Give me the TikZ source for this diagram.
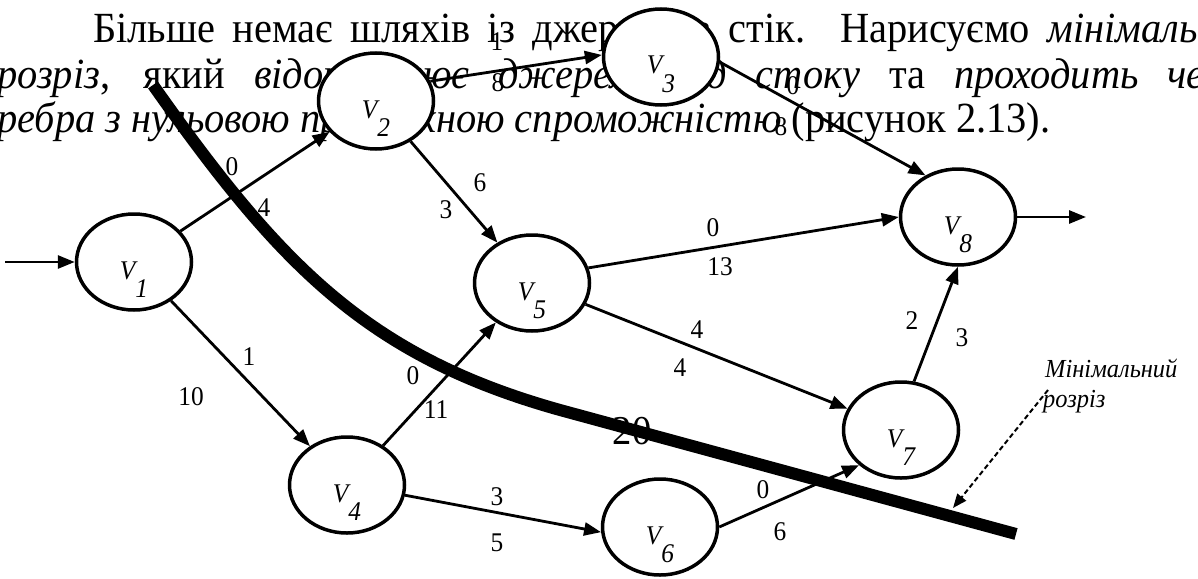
\documentclass[tikz,border=0pt]{standalone}
\usepackage{fontspec}
\setmainfont{Liberation Serif}[FakeStretch=0.94]
\usetikzlibrary{arrows.meta,shapes.geometric}
\newcommand\vlab[1]{\smash{\raisebox{-17pt}{V\raisebox{-18pt}{#1}}}}
\begin{document}
\begin{tikzpicture}[x=1pt,y=-1pt,
  vert/.style={ellipse, draw, line width=3.5pt, fill=white, minimum width=115pt, minimum height=96pt, inner sep=0pt, font=\fontsize{27}{27}\selectfont\itshape},
  arr/.style={line width=2.8pt, -{Triangle[length=17pt,width=13pt]}},
  lbl/.style={font=\fontsize{27}{27}\selectfont, inner sep=0pt},
  big/.style={font=\fontsize{41}{41}\selectfont, inner sep=0pt},
  body/.style={anchor=base west, inner sep=0pt, font=\fontsize{43}{43}\selectfont},
  note/.style={anchor=base west, inner sep=0pt, font=\fontsize{26}{26}\selectfont\itshape},
  cutline/.style={line width=12pt},
  pointer/.style={line width=2pt, dash pattern=on 5pt off 3pt, -{Triangle[length=14pt,width=11pt]}}]
\useasboundingbox (0,0) rectangle (1198,578);
\clip (0,0) rectangle (1198,578);
% paragraph text
\node[body] (t1) at (93,42) {\makebox[1165pt][s]{Більше немає шляхів із джерела в стік. Нарисуємо \textit{мінімальний}}};
\node[body] (t2) at (-3,88) {\makebox[1261pt][s]{\textit{розріз}, який \textit{відокремлює джерело від стоку} та \textit{проходить через}}};
\node[body] (t3) at (-3,132) {\textit{ребра з нульовою пропускною спроможністю} (рисунок 2.13).};
% vertices
\node[vert] (v1) at (134,262) {\vlab{1}};
\node[vert] (v2) at (376,101) {\vlab{2}};
\node[vert] (v3) at (661,57) {\vlab{3}};
\node[vert] (v4) at (347,485) {\vlab{4}};
\node[vert] (v5) at (532,283) {\vlab{5}};
\node[vert] (v6) at (660,527) {\vlab{6}};
\node[vert] (v7) at (901,430) {\vlab{7}};
\node[vert] (v8) at (958,217) {\vlab{8}};
\coordinate (in) at (5,262);
\coordinate (out) at (1086,217);
% edges
\draw[arr] (in) -- (v1.west);
\draw[arr] (v1) -- (v2);
\draw[arr] (v1) -- (v4);
\draw[arr] (v2.20) -- (v3.178);
\draw[arr] (v2) -- (v5);
\draw[arr] (v3.-5) -- (v8.128);
\draw[arr] (v5.15) -- (v8.west);
\draw[arr] (v5) -- (v7);
\draw[arr] (v4) -- (v5);
\draw[arr] (v4.-10) -- (v6.185);
\draw[arr] (v6.east) -- (v7.220);
\draw[arr] (v7.75) -- (v8.south);
\draw[arr] (v8.east) -- (out);
% edge labels
\node[lbl] (l12a) at (232,167) {0};
\node[lbl] (l12b) at (264,208) {4};
\node[lbl] (l14a) at (249,357) {1};
\node[lbl] (l14b) at (191,397) {10};
\node[lbl] (l23a) at (497,42) {1};
\node[lbl] (l23b) at (498,83) {8};
\node[lbl] (l25a) at (480,183) {6};
\node[lbl] (l25b) at (446,210) {3};
\node[lbl] (l38a) at (793,86) {0};
\node[lbl] (l38b) at (781,127) {8};
\node[lbl] (l58a) at (713,228) {0};
\node[lbl] (l58b) at (720,267) {13};
\node[lbl] (l57a) at (697,330) {4};
\node[lbl] (l57b) at (680,368) {4};
\node[lbl] (l45a) at (413,376) {0};
\node[lbl] (l45b) at (436,410) {11};
\node[lbl] (l46a) at (497,497) {3};
\node[lbl] (l46b) at (497,543) {5};
\node[lbl] (l67a) at (763,490) {0};
\node[lbl] (l67b) at (780,532) {6};
\node[lbl] (l78a) at (912,321) {2};
\node[lbl] (l78b) at (962,338) {3};
\node[big] (l20) at (632,431) {20};
% minimal cut
\coordinate (c0) at (153,85);
\coordinate (c1) at (280,265);
\coordinate (c2) at (367,356);
\coordinate (c3) at (560,410);
\coordinate (c4) at (1016,534);
\draw[cutline] (c0) .. controls (c1) and (c2) .. (c3) -- (c4);
\node[note] (m1) at (1045,377) {Мінімальний};
\node[note] (m2) at (1043,407) {розріз};
\coordinate (p0) at (1048,390);
\coordinate (p1) at (953,508);
\draw[pointer] (p0) -- (p1);
\end{tikzpicture}
\end{document}
